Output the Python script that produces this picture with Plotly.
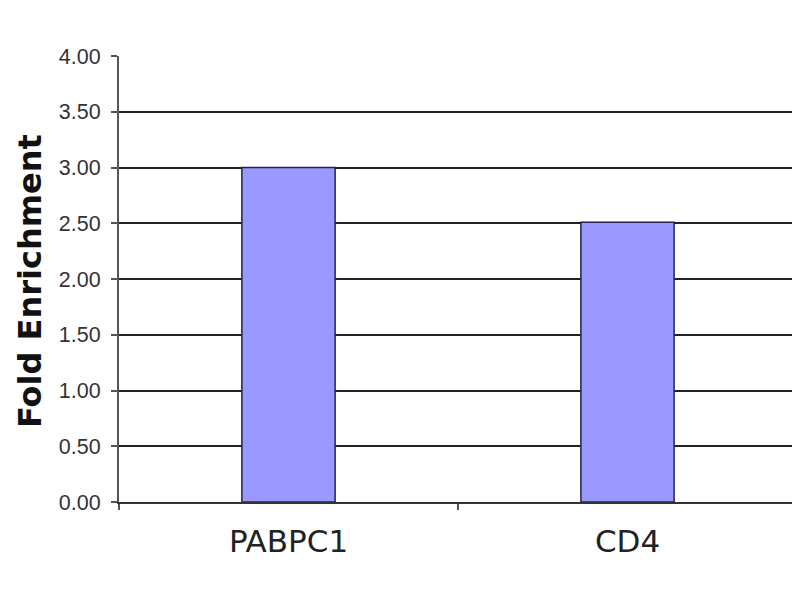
import plotly.graph_objects as go

categories = ["PABPC1", "CD4"]
values = [3.00, 2.51]
y_ticks = [0, 0.5, 1.0, 1.5, 2.0, 2.5, 3.0, 3.5, 4.0]
y_tick_labels = ["0.00", "0.50", "1.00", "1.50", "2.00", "2.50", "3.00", "3.50", "4.00"]

fig = go.Figure()
fig.add_trace(go.Bar(
    x=categories, y=values,
    marker=dict(color="#9999FF", line=dict(color="#222255", width=1.5)),
    width=0.275,
))

# page body has an 8px margin; compensate
OFF = 8
W, H = 800, 600
L, R, T, B = 119 - OFF, 11, 56 - OFF, 106
pw = W - L - R
ph = H - T - B

fig.update_layout(
    width=W, height=H,
    margin=dict(l=L, r=R, t=T, b=B),
    plot_bgcolor="white", paper_bgcolor="white",
    showlegend=False,
    xaxis=dict(
        type="category", range=[-0.5, 1.5],
        tickson="boundaries", ticks="outside", ticklen=6, tickwidth=1.5, tickcolor="#555555",
        showgrid=False, showline=True, linecolor="#333333", linewidth=2,
        tickfont=dict(family="DejaVu Sans", size=31, color="#222222"),
        ticklabelstandoff=11,
    ),
    yaxis=dict(
        range=[0, 4.0], tickvals=y_ticks, ticktext=y_tick_labels,
        ticks="outside", ticklen=6, tickwidth=1.5, tickcolor="#555555",
        showgrid=True, gridcolor="#222222", gridwidth=1.5,
        showline=True, linecolor="#555555", linewidth=2,
        zeroline=False,
        tickfont=dict(family="Liberation Sans", size=21.5, color="#333333"),
        ticklabelstandoff=6,
    ),
    annotations=[dict(
        text="<b>Fold Enrichment</b>", textangle=-90,
        xref="paper", yref="paper",
        x=(30 - OFF - L) / pw, y=(H - B - (281 - OFF)) / ph,
        xanchor="center", yanchor="middle", showarrow=False,
        font=dict(family="DejaVu Sans", size=32, color="#111111"),
    )],
)

fig.write_html("out.html")
